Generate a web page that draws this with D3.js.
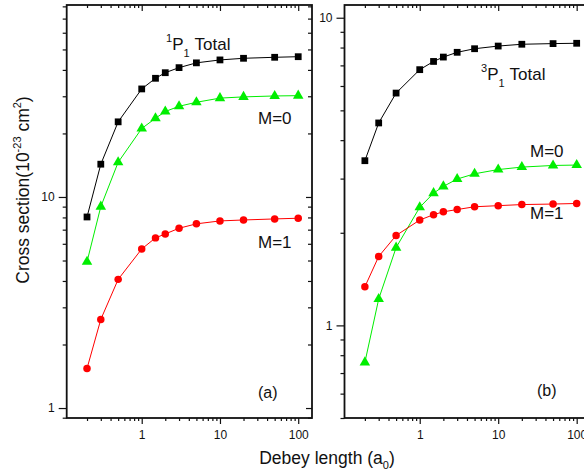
<!DOCTYPE html>
<html>
<head>
<meta charset="utf-8">
<script src="https://cdn.jsdelivr.net/npm/d3@7/dist/d3.min.js"></script>
<style>
  html, body { margin: 0; padding: 0; background: #fff; }
  svg { display: block; font-family: "Liberation Sans", Arial, sans-serif; }
</style>
</head>
<body>
<svg id="chart" width="584" height="474"></svg>
<script>
// Debye screening lengths (a0)
const debye = [0.2, 0.3, 0.5, 1, 1.5, 2, 3, 5, 10, 20, 50, 100];

// Panel (a): 1P1 excitation cross sections (10^-23 cm^2)
const p1Total = [8.04, 14.3, 22.7, 32.5, 36.5, 38.8, 41.0, 43.2, 44.6, 45.4, 45.9, 46.2];
const p1M0    = [4.93, 9.0, 14.6, 21.1, 23.6, 25.4, 26.9, 28.1, 29.4, 29.8, 30.1, 30.2];
const p1M1    = [1.54, 2.63, 4.07, 5.67, 6.40, 6.68, 7.11, 7.46, 7.70, 7.78, 7.87, 7.93];

// Panel (b): 3P1 excitation cross sections (10^-23 cm^2)
const p3Total = [3.43, 4.55, 5.69, 6.78, 7.21, 7.45, 7.72, 7.93, 8.09, 8.20, 8.24, 8.26];
const p3M0    = [0.758, 1.218, 1.79, 2.42, 2.69, 2.83, 2.99, 3.11, 3.21, 3.27, 3.31, 3.32];
const p3M1    = [1.335, 1.675, 1.96, 2.20, 2.29, 2.34, 2.38, 2.43, 2.45, 2.47, 2.48, 2.49];

// Tick labels
const xTickLabels = [1, 10, 100];
const yTickLabelsA = [1, 10];
const yTickLabelsB = [1, 10];

const svg = d3.select("#chart");
const plotTop = 5, plotBottom = 418;

function minorTicks(lo, hi) {
  const out = [];
  for (let e = -2; e <= 3; e++) {
    for (let m = 1; m <= 9; m++) {
      const v = m * Math.pow(10, e);
      if (v >= lo * 0.9999 && v <= hi * 1.0001) out.push(v);
    }
  }
  return out;
}

function drawPanel(opt) {
  const x = d3.scaleLog().domain([0.11, 150]).range([opt.left, opt.right]);
  const y = d3.scaleLog().domain(opt.yDomain).range([plotBottom, plotTop]);
  const g = svg.append("g");

  const xMinor = minorTicks(0.2, 100).filter(v => !xTickLabels.includes(v));
  const yMinor = minorTicks(opt.yDomain[0], opt.yDomain[1]).filter(v => !opt.yLabels.includes(v));

  const styleAxis = sel => {
    sel.select(".domain").remove();
    sel.selectAll("line").attr("stroke", "#111").attr("stroke-width", 1.2);
    sel.selectAll("text").attr("fill", "#111").attr("font-size", 12)
      .attr("font-family", "'Liberation Sans', Arial, sans-serif");
  };

  // bottom axis (outward ticks, labelled)
  g.append("g").attr("transform", `translate(0,${plotBottom})`)
    .call(d3.axisBottom(x).tickValues(xTickLabels).tickFormat(d3.format("d")).tickSize(6).tickPadding(6))
    .call(styleAxis);
  g.append("g").attr("transform", `translate(0,${plotBottom})`)
    .call(d3.axisBottom(x).tickValues(xMinor).tickFormat("").tickSize(3))
    .call(styleAxis);
  // top axis (inward ticks)
  g.append("g").attr("transform", `translate(0,${plotTop})`)
    .call(d3.axisBottom(x).tickValues(xTickLabels).tickFormat("").tickSize(6))
    .call(styleAxis);
  g.append("g").attr("transform", `translate(0,${plotTop})`)
    .call(d3.axisBottom(x).tickValues(xMinor).tickFormat("").tickSize(3))
    .call(styleAxis);
  // left axis (outward ticks, labelled)
  g.append("g").attr("transform", `translate(${opt.left},0)`)
    .call(d3.axisLeft(y).tickValues(opt.yLabels).tickFormat(d3.format("d")).tickSize(8).tickPadding(4))
    .call(styleAxis);
  g.append("g").attr("transform", `translate(${opt.left},0)`)
    .call(d3.axisLeft(y).tickValues(yMinor).tickFormat("").tickSize(4))
    .call(styleAxis);
  // right axis (inward ticks)
  g.append("g").attr("transform", `translate(${opt.right},0)`)
    .call(d3.axisLeft(y).tickValues(opt.yLabels).tickFormat("").tickSize(6))
    .call(styleAxis);
  g.append("g").attr("transform", `translate(${opt.right},0)`)
    .call(d3.axisLeft(y).tickValues(yMinor).tickFormat("").tickSize(4))
    .call(styleAxis);

  // frame
  g.append("rect")
    .attr("x", opt.left).attr("y", plotTop)
    .attr("width", opt.right - opt.left).attr("height", plotBottom - plotTop)
    .attr("fill", "none").attr("stroke", "#111").attr("stroke-width", 1.8);

  const line = d3.line().x((d, i) => x(debye[i])).y(d => y(d));

  opt.series.forEach(s => {
    g.append("path").datum(s.values)
      .attr("d", line).attr("fill", "none")
      .attr("stroke", s.color).attr("stroke-width", 1);
    const pts = g.append("g").selectAll("path.m").data(s.values).join("path")
      .attr("class", "m")
      .attr("transform", (d, i) => `translate(${x(debye[i])},${y(d)})`)
      .attr("fill", s.color);
    if (s.shape === "square") {
      pts.attr("d", d3.symbol(d3.symbolSquare, 46)());
    } else if (s.shape === "circle") {
      pts.attr("d", d3.symbol(d3.symbolCircle, 44)());
    } else {
      pts.attr("d", d3.symbol(d3.symbolTriangle, 48)());
    }
  });

  return g;
}

const gA = drawPanel({
  left: 66.7, right: 312, yDomain: [0.897, 81.2], yLabels: yTickLabelsA,
  series: [
    { values: p1Total, color: "#000000", shape: "square" },
    { values: p1M0, color: "#00ee00", shape: "triangle" },
    { values: p1M1, color: "#ff0000", shape: "circle" }
  ]
});

const gB = drawPanel({
  left: 344.5, right: 590.5, yDomain: [0.5, 11], yLabels: yTickLabelsB,
  series: [
    { values: p3Total, color: "#000000", shape: "square" },
    { values: p3M0, color: "#00ee00", shape: "triangle" },
    { values: p3M1, color: "#ff0000", shape: "circle" }
  ]
});

// in-plot annotations
function stateLabel(g, xPos, yBase, sup, sub) {
  const t = g.append("text").attr("x", xPos).attr("y", yBase)
    .attr("font-size", 17).attr("fill", "#111");
  t.append("tspan").attr("font-size", 11).attr("dy", -8).text(sup);
  t.append("tspan").attr("dy", 8).text("P");
  t.append("tspan").attr("font-size", 11).attr("dy", 7).text(sub);
  t.append("tspan").attr("dy", -7).attr("dx", 5).text("Total");
}
function note(g, xPos, yBase, txt, size) {
  g.append("text").attr("x", xPos).attr("y", yBase)
    .attr("font-size", size).attr("fill", "#111").text(txt);
}

stateLabel(gA, 166, 50, "1", "1");
note(gA, 258, 124, "M=0", 17);
note(gA, 258, 248, "M=1", 17);
note(gA, 258, 398, "(a)", 16);

stateLabel(gB, 481, 80, "3", "1");
note(gB, 530, 157, "M=0", 17);
note(gB, 530, 219, "M=1", 17);
note(gB, 537, 396, "(b)", 16);

// axis titles
const yt = svg.append("text")
  .attr("transform", "translate(29,190) rotate(-90)")
  .attr("text-anchor", "middle").attr("font-size", 17.5).attr("fill", "#111");
yt.append("tspan").text("Cross section(10");
yt.append("tspan").attr("font-size", 11).attr("dy", -8).text("-23");
yt.append("tspan").attr("dy", 8).text(" cm");
yt.append("tspan").attr("font-size", 11).attr("dy", -8).text("2");
yt.append("tspan").attr("dy", 8).text(")");

const xt = svg.append("text")
  .attr("x", 327).attr("y", 464)
  .attr("text-anchor", "middle").attr("font-size", 17.5).attr("fill", "#111");
xt.append("tspan").text("Debey length (a");
xt.append("tspan").attr("font-size", 11).attr("dy", 5).text("0");
xt.append("tspan").attr("dy", -5).text(")");
</script>
</body>
</html>
